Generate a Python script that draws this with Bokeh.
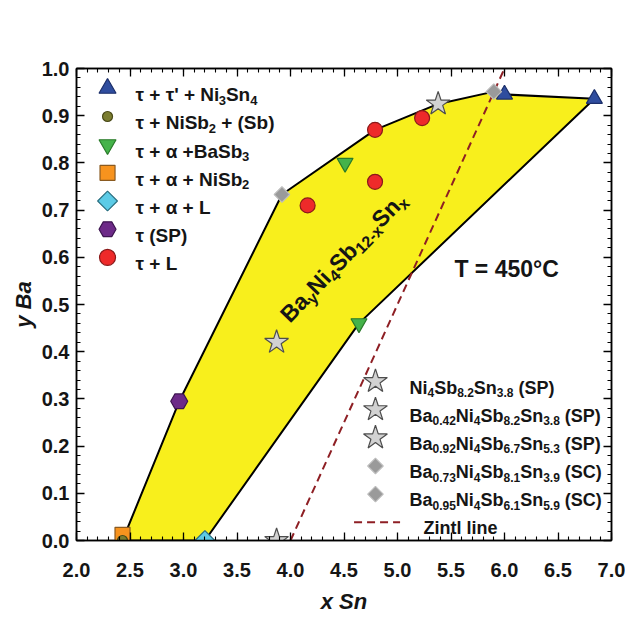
import math
from bokeh.plotting import figure
from bokeh.models import Label, LinearAxis, Range1d, SingleIntervalTicker, NumeralTickFormatter, CustomJSTickFormatter
from bokeh.embed import file_html
from bokeh.resources import INLINE

# ---------------- data ----------------
region_x = [2.43, 2.96, 3.92, 4.79, 5.38, 5.90, 6.00, 6.84, 4.64, 3.20]
region_y = [0.00, 0.295, 0.733, 0.870, 0.925, 0.951, 0.945, 0.936, 0.460, 0.00]

tri_x = [6.00, 6.84]          # tau + tau' + Ni3Sn4
tri_y = [0.945, 0.936]
olive_x = [2.43]              # tau + NiSb2 + (Sb)
olive_y = [0.0]
itri_x = [4.51, 4.64]         # tau + alpha + BaSb3
itri_y = [0.80, 0.46]
sq_x = [2.43]                 # tau + alpha + NiSb2
sq_y = [0.012]
cyan_x = [3.20]               # tau + alpha + L
cyan_y = [0.0]
hex_x = [2.96]                # tau (SP)
hex_y = [0.295]
red_x = [4.16, 4.79, 4.79, 5.23]   # tau + L
red_y = [0.71, 0.87, 0.76, 0.895]
star_x = [3.87, 3.87, 5.38]   # SP samples
star_y = [0.0, 0.42, 0.925]
sc_x = [3.92, 5.90]           # SC samples
sc_y = [0.733, 0.951]
zintl_x = [4.0, 6.0]
zintl_y = [0.0, 1.0]

legend1_labels = [
    [("τ + τ' + Ni", 0), ("3", 1), ("Sn", 0), ("4", 1)],
    [("τ + NiSb", 0), ("2", 1), (" + (Sb)", 0)],
    [("τ + α +BaSb", 0), ("3", 1)],
    [("τ + α + NiSb", 0), ("2", 1)],
    [("τ + α + L", 0)],
    [("τ (SP)", 0)],
    [("τ + L", 0)],
]
legend2_labels = [
    [("Ni", 0), ("4", 1), ("Sb", 0), ("8.2", 1), ("Sn", 0), ("3.8", 1), (" (SP)", 0)],
    [("Ba", 0), ("0.42", 1), ("Ni", 0), ("4", 1), ("Sb", 0), ("8.2", 1), ("Sn", 0), ("3.8", 1), (" (SP)", 0)],
    [("Ba", 0), ("0.92", 1), ("Ni", 0), ("4", 1), ("Sb", 0), ("6.7", 1), ("Sn", 0), ("5.3", 1), (" (SP)", 0)],
    [("Ba", 0), ("0.73", 1), ("Ni", 0), ("4", 1), ("Sb", 0), ("8.1", 1), ("Sn", 0), ("3.9", 1), (" (SC)", 0)],
    [("Ba", 0), ("0.95", 1), ("Ni", 0), ("4", 1), ("Sb", 0), ("6.1", 1), ("Sn", 0), ("5.9", 1), (" (SC)", 0)],
]
zintl_label = "Zintl line"
phase_label = [("Ba", 0), ("y", 1), ("Ni", 0), ("4", 1), ("Sb", 0), ("12-x", 1), ("Sn", 0), ("x", 1)]
temp_label = "T = 450°C"

FONT = "Liberation Sans"

# --------------- figure ----------------
p = figure(width=625, height=619, x_range=Range1d(2, 7), y_range=Range1d(0, 1),
           output_backend="svg", toolbar_location=None,
           min_border_left=76, min_border_right=14, min_border_top=68, min_border_bottom=79)
p.xgrid.visible = False
p.ygrid.visible = False
p.outline_line_color = "black"
p.outline_line_width = 1.5
p.background_fill_color = "white"
p.border_fill_color = "white"

xt = SingleIntervalTicker(interval=0.5, num_minor_ticks=5)
yt = SingleIntervalTicker(interval=0.1, num_minor_ticks=5)
p.xaxis.ticker = xt
p.yaxis.ticker = yt
p.xaxis.formatter = NumeralTickFormatter(format="0.0")
p.yaxis.formatter = NumeralTickFormatter(format="0.0")


def style_axis(ax):
    ax.major_tick_in = 8
    ax.major_tick_out = 0
    ax.minor_tick_in = 4
    ax.minor_tick_out = 0
    ax.axis_line_width = 1.5
    ax.major_tick_line_width = 1.3
    ax.minor_tick_line_width = 1.1
    ax.axis_line_color = "black"
    ax.major_tick_line_color = "black"
    ax.minor_tick_line_color = "black"
    ax.major_label_text_font = FONT
    ax.major_label_text_font_style = "bold"
    ax.major_label_text_font_size = "20px"
    ax.major_label_text_color = "#151515"
    ax.axis_label_text_font = FONT
    ax.axis_label_text_font_style = "bold italic"
    ax.axis_label_text_font_size = "22px"
    ax.axis_label_text_color = "#151515"


style_axis(p.xaxis[0])
style_axis(p.yaxis[0])
p.xaxis.axis_label = "x Sn"
p.yaxis.axis_label = "y Ba"
p.xaxis.major_label_standoff = 22
p.xaxis.axis_label_standoff = 9
p.yaxis.major_label_standoff = 7
p.yaxis.axis_label_standoff = 3

blank = CustomJSTickFormatter(code="return ''")
for loc, tk in (("above", xt), ("right", yt)):
    ax = LinearAxis(ticker=tk, formatter=blank)
    style_axis(ax)
    ax.major_label_text_font_size = "0px"
    ax.major_label_standoff = 0
    p.add_layout(ax, loc)

# --------------- region & line ----------------
p.patch(region_x, region_y, fill_color="#f8ef1c", line_color="black", line_width=2)
p.line(zintl_x, zintl_y, line_color="#8e1f24", line_width=2, line_dash="8 5")

# --------------- markers ----------------
D45 = math.pi / 4
STY = {
    "tri": dict(marker="triangle", size=16, fill_color="#2f4d9e", line_color="#1c2f6a"),
    "olive": dict(marker="circle", size=10, fill_color="#7b7d30", line_color="#4a4a18"),
    "itri": dict(marker="inverted_triangle", size=16, fill_color="#45b34a", line_color="#2a7a2a"),
    "sq": dict(marker="square", size=15, fill_color="#f7931e", line_color="#8a5a20"),
    "cyan": dict(marker="square", size=14, angle=D45, fill_color="#5ccbe6", line_color="#2a6f80"),
    "hex": dict(marker="hex", size=17, fill_color="#6d2a88", line_color="#3d1550"),
    "red": dict(marker="circle", size=15, fill_color="#ee2a2a", line_color="#8a1a1a"),
    "star": dict(marker="star", size=25, fill_color="#d2d2d2", line_color="#4d4d4d"),
    "sc": dict(marker="square", size=11, angle=D45, fill_color="#9a9a9a", line_color="#bdbdbd"),
}

p.scatter(sq_x, sq_y, line_width=1.2, **STY["sq"])
p.scatter(olive_x, olive_y, line_width=1.2, **STY["olive"])
p.scatter(cyan_x, cyan_y, line_width=1.2, **STY["cyan"])
p.scatter(hex_x, hex_y, line_width=1.2, **STY["hex"])
p.scatter(itri_x, itri_y, line_width=1.2, **STY["itri"])
p.scatter(red_x, red_y, line_width=1.2, **STY["red"])
p.scatter(tri_x, tri_y, line_width=1.2, **STY["tri"])
p.scatter(star_x, star_y, line_width=1.2, **STY["star"])
p.scatter(sc_x, sc_y, line_width=1.2, **STY["sc"])

# --------------- rich text helper ----------------
WID = {" ": 278, "'": 238, "(": 333, ")": 333, "+": 584, "-": 333, ".": 278, "=": 584, "°": 400,
       "A": 722, "B": 722, "C": 722, "L": 611, "N": 722, "P": 667, "S": 667, "T": 611, "Z": 611,
       "a": 556, "b": 611, "e": 556, "i": 278, "l": 278, "n": 611, "t": 333, "x": 556, "y": 556,
       "τ": 430, "α": 620}


def tw(s, size):
    return sum(WID.get(c, 556) for c in s) / 1000.0 * size


def rich(x, y, segs, size, sub, angle=0.0, center=False, color="#151515", xo=0.0):
    widths = [tw(t, sub if s else size) for t, s in segs]
    u = xo - (sum(widths) / 2 if center else 0.0)
    ca, sa = math.cos(angle), math.sin(angle)
    for (t, s), w in zip(segs, widths):
        fs = sub if s else size
        lead = len(t) - len(t.lstrip(" "))
        uu = u + tw(" " * lead, fs)
        v = -0.34 * size - (0.28 * size if s else 0.0)
        p.add_layout(Label(x=x, y=y, x_offset=uu * ca - v * sa, y_offset=uu * sa + v * ca,
                           text=t.strip(" "), angle=angle, text_font=FONT, text_font_style="bold",
                           text_font_size=f"{fs}px", text_color=color,
                           text_baseline="alphabetic", text_align="left"))
        u += w


# --------------- legends ----------------
LEG1_X, LEG1_Y0, LEG_DY = 2.29, 0.958, 0.0597
leg1_keys = ["tri", "olive", "itri", "sq", "cyan", "hex", "red"]
leg1_size = {"tri": 17, "olive": 10, "itri": 17, "sq": 15, "cyan": 14, "hex": 17, "red": 16}
for i, (k, segs) in enumerate(zip(leg1_keys, legend1_labels)):
    yy = LEG1_Y0 - i * LEG_DY
    st = dict(STY[k]); st["size"] = leg1_size[k]
    p.scatter([LEG1_X], [yy], line_width=1.2, **st)
    rich(LEG1_X, yy, segs, 19, 13, xo=28)

LEG2_X, LEG2_Y0 = 4.794, 0.337
leg2_keys = ["star", "star", "star", "sc", "sc"]
for i, (k, segs) in enumerate(zip(leg2_keys, legend2_labels)):
    yy = LEG2_Y0 - i * LEG_DY
    p.scatter([LEG2_X], [yy], line_width=1.2, **STY[k])
    rich(LEG2_X, yy, segs, 18, 12, xo=34)
yz = LEG2_Y0 - 5 * LEG_DY
p.line([LEG2_X - 0.2, LEG2_X + 0.23], [yz, yz], line_color="#8e1f24", line_width=2, line_dash="8 5")
rich(LEG2_X, yz, [(zintl_label, 0)], 18, 12, xo=48)

# --------------- annotations ----------------
rich(6.02, 0.592, [(temp_label, 0)], 23, 16, center=True)
rich(4.44, 0.612, phase_label, 23, 16, angle=math.radians(46), center=True)

open("out.html", "w").write(file_html(p, INLINE))
